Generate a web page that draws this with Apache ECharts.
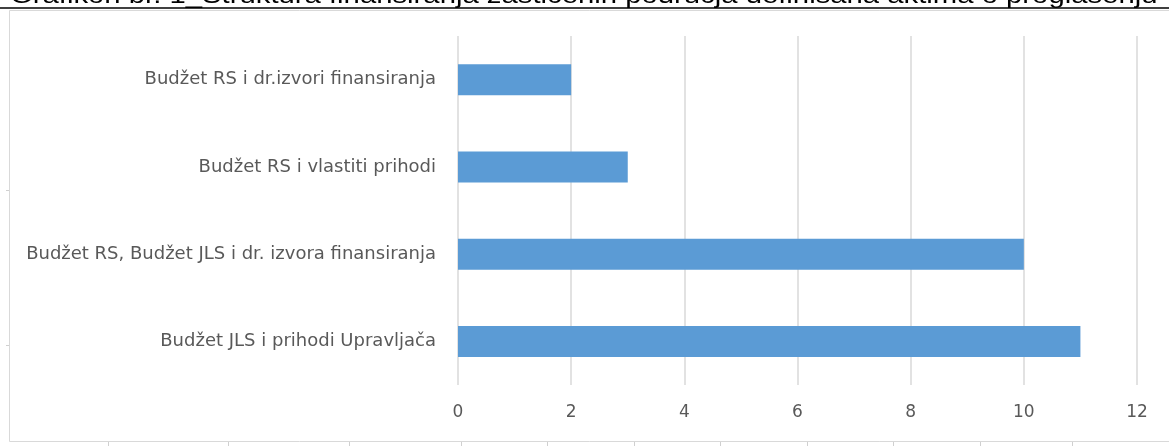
<!DOCTYPE html>
<html>
<head>
<meta charset="utf-8">
<script src="https://cdn.jsdelivr.net/npm/echarts@6/dist/echarts.min.js"></script>
<style>
  html, body { margin: 0; padding: 0; background: #fff; }
  #chart { width: 1169px; height: 446px; }
</style>
</head>
<body>
<div id="chart"></div>
<script>
// categories from bottom to top, as the category axis draws them
const categories = [
  'Budžet JLS i prihodi Upravljača',
  'Budžet RS, Budžet JLS i dr. izvora finansiranja',
  'Budžet RS i vlastiti prihodi',
  'Budžet RS i dr.izvori finansiranja'
]
const counts = [11, 10, 3, 2]
const title = 'Grafikon br. 1_Struktura finansiranja zaštićenih područja definisana aktima o proglašenju'

// little page marks under and left of the chart frame
const bottomMarks = [108, 228, 349, 461, 547, 634, 720, 807, 893, 980, 1072]
const leftMarks = [190, 345]

let marks = bottomMarks.map(x => ({
  type: 'line',
  shape: { x1: x + 0.5, y1: 442, x2: x + 0.5, y2: 446 },
  style: { stroke: '#d0d0d0', lineWidth: 1 }
})).concat(leftMarks.map(y => ({
  type: 'line',
  shape: { x1: 6, y1: y + 0.5, x2: 9, y2: y + 0.5 },
  style: { stroke: '#d0d0d0', lineWidth: 1 }
})))

let myChart = echarts.init(document.getElementById('chart'))

let option = {
  animation: false,
  backgroundColor: '#fff',
  textStyle: { fontFamily: 'DejaVu Sans' },
  graphic: [
    {
      type: 'rect',
      shape: { x: 9.5, y: 10.5, width: 1200, height: 431 },
      style: { fill: 'none', stroke: '#d9d9d9', lineWidth: 1 }
    },
    {
      type: 'text',
      x: 10,
      y: -16,
      scaleX: 1.22,
      style: { text: title, fontFamily: 'Liberation Sans', fontSize: 24, fill: '#000' }
    },
    {
      type: 'line',
      shape: { x1: 0, y1: 8, x2: 1169, y2: 8 },
      style: { stroke: '#000', lineWidth: 1.5 }
    }
  ].concat(marks),
  grid: { left: 458, right: 32, top: 36, bottom: 61 },
  xAxis: {
    type: 'value',
    min: 0,
    max: 12,
    interval: 2,
    axisLine: { show: false },
    axisTick: { show: false },
    axisLabel: { color: '#595959', fontSize: 17, margin: 19 },
    splitLine: { lineStyle: { color: '#d9d9d9', width: 1.5 } }
  },
  yAxis: {
    type: 'category',
    data: categories,
    axisLine: { show: false },
    axisTick: { show: false },
    axisLabel: { color: '#595959', fontSize: 18, margin: 22 }
  },
  series: [
    {
      type: 'bar',
      data: counts,
      barWidth: 31,
      itemStyle: { color: '#5b9bd5' }
    }
  ]
}

option && myChart.setOption(option)
</script>
</body>
</html>
